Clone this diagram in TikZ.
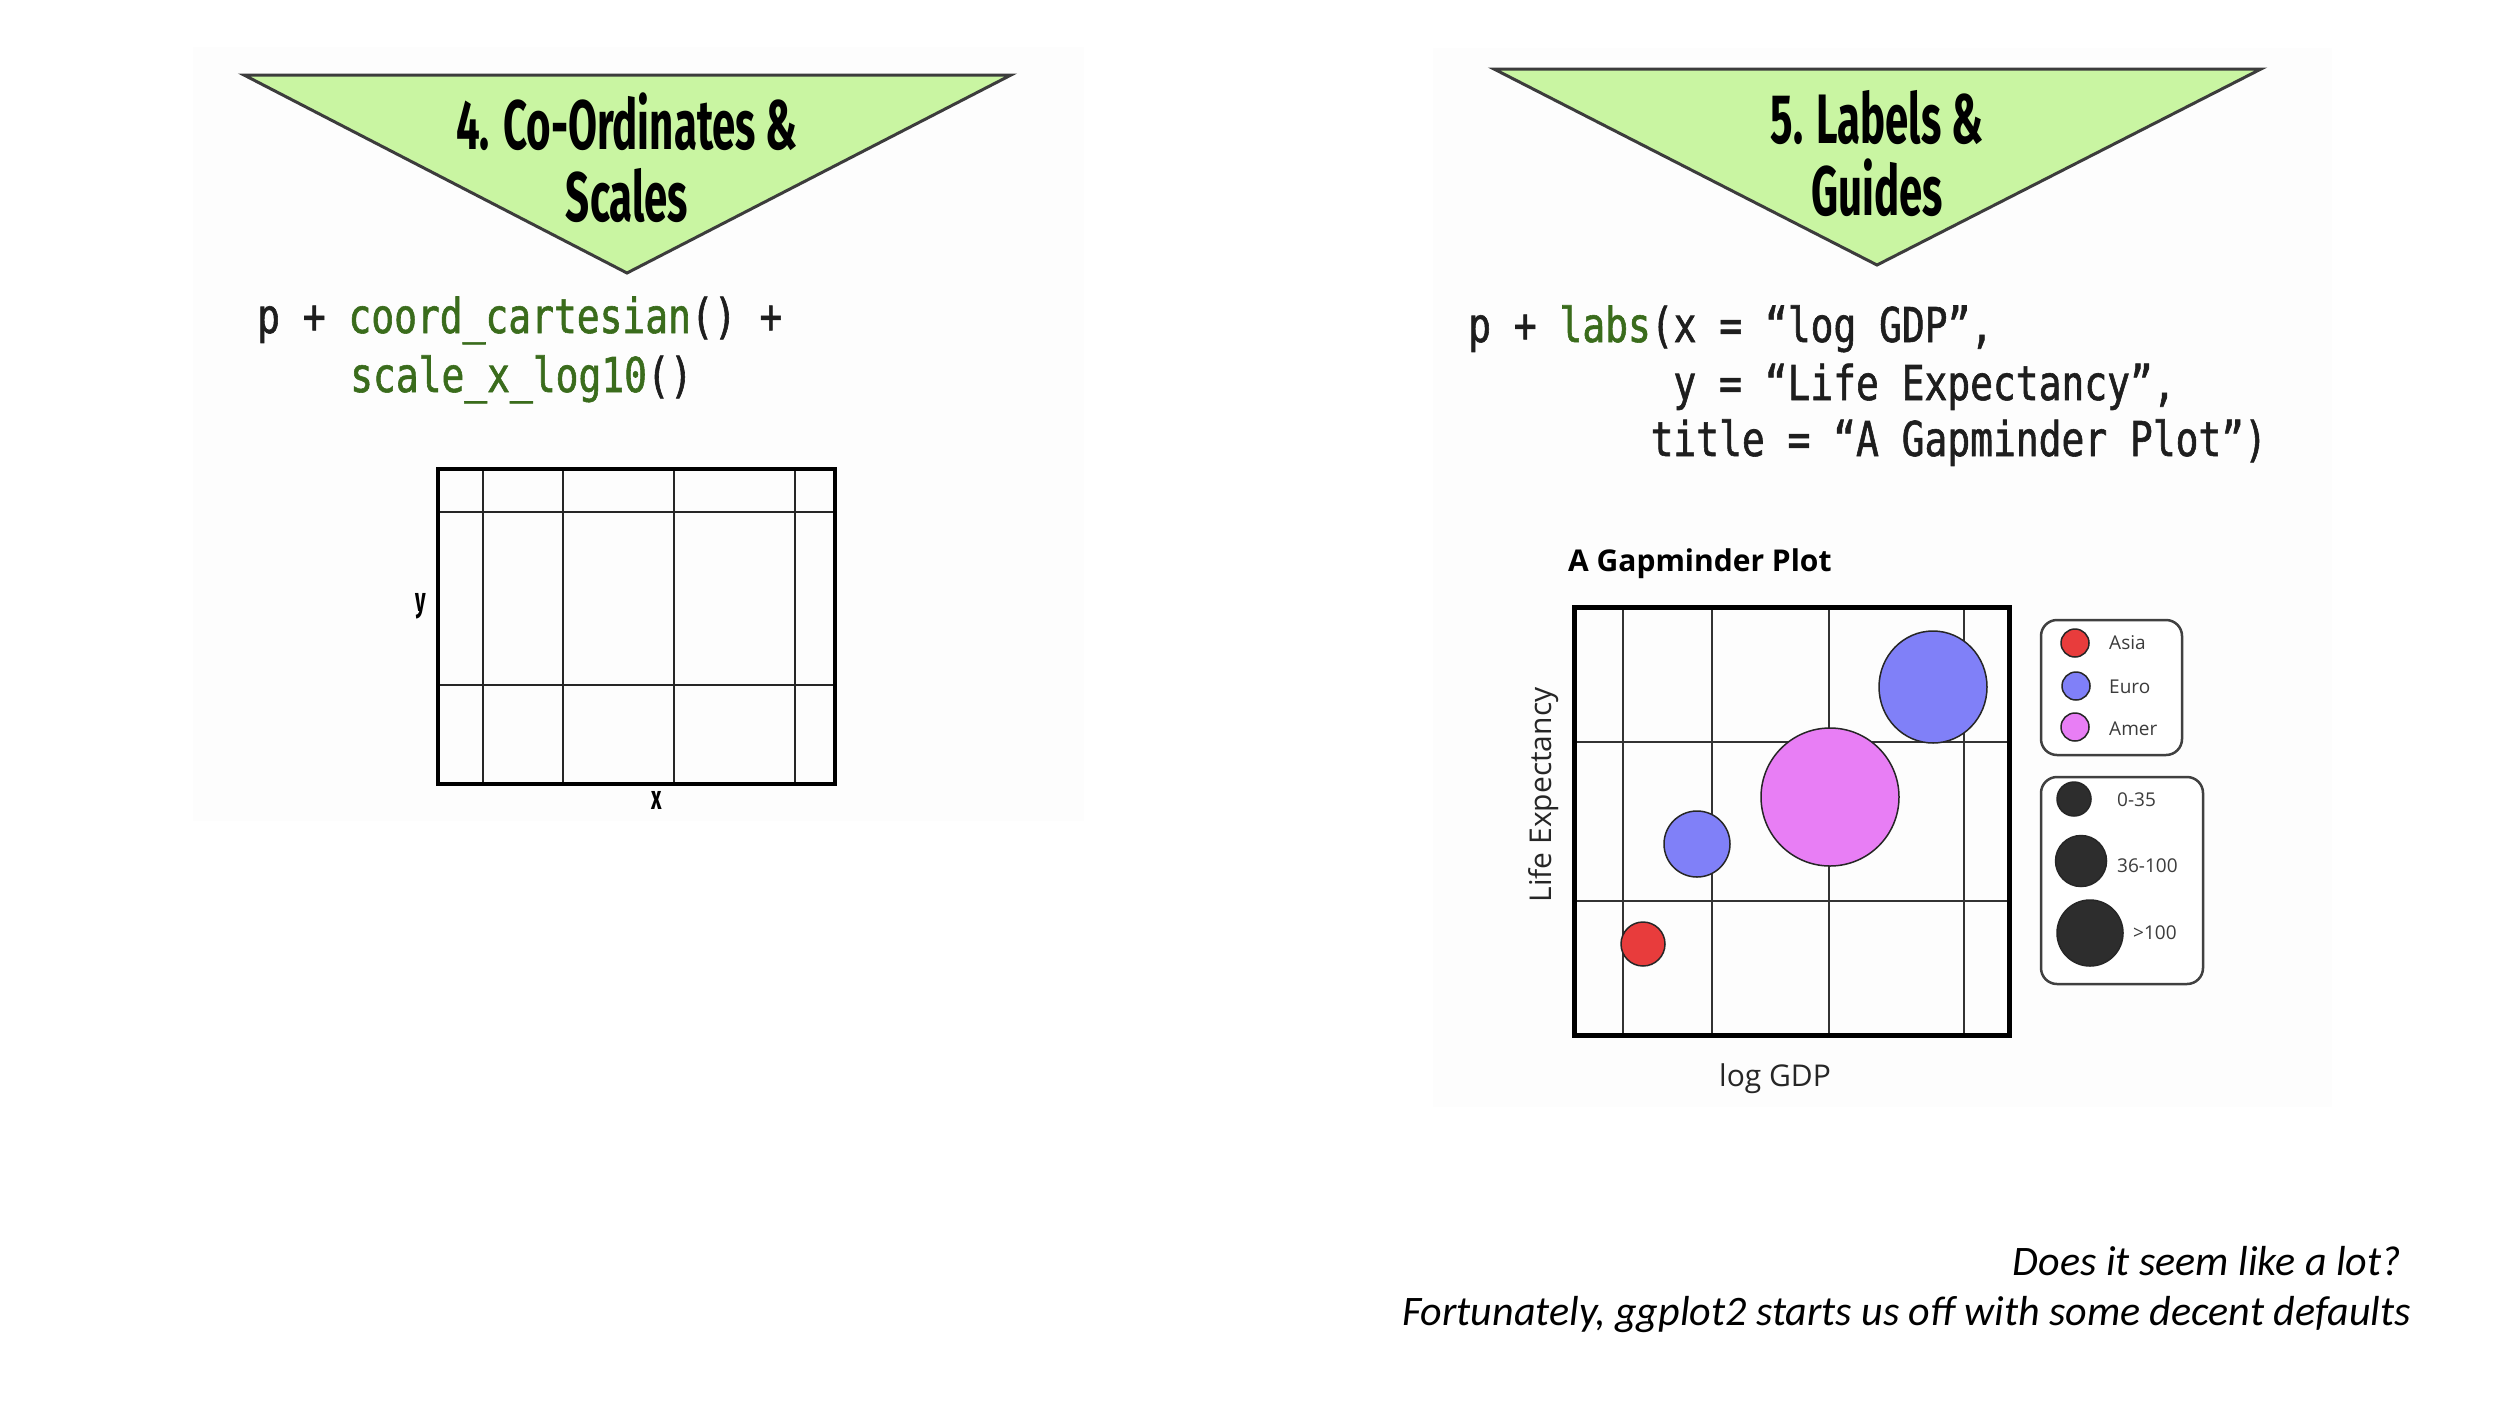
\documentclass[tikz,border=0pt]{standalone}
\usepackage{fontspec}
\setmainfont{Open Sans}
\newfontfamily\headfont{Fira Sans}[FakeStretch=0.6]
\newfontfamily\codefont{DejaVu Sans Mono}[FakeStretch=0.79,FakeBold=1.2]
\newfontfamily\notefont{Carlito}
\definecolor{trifill}{RGB}{201,245,162}
\definecolor{triline}{RGB}{60,60,60}
\definecolor{codegreen}{RGB}{58,108,28}
\definecolor{codeblack}{RGB}{30,30,30}
\definecolor{panelgray}{RGB}{253,253,253}
\definecolor{ptred}{RGB}{232,60,60}
\definecolor{ptblue}{RGB}{128,128,248}
\definecolor{ptmag}{RGB}{232,126,245}
\definecolor{ptblack}{RGB}{45,45,45}
\definecolor{legtext}{RGB}{60,60,60}
\begin{document}
\begin{tikzpicture}[x=1pt,y=-1pt,
  tri/.style={fill=trifill,draw=triline,line width=3pt,line join=miter},
  head/.style={font=\headfont\bfseries\fontsize{70}{72}\selectfont,inner sep=0pt,anchor=base,text=black},
  code/.style={font=\codefont\fontsize{48}{58}\selectfont,inner sep=0pt,anchor=base west,text=codeblack},
  gridout/.style={draw=black,line width=4pt},
  gridin/.style={draw=black!85,line width=2pt},
  plotout/.style={draw=black,line width=5pt},
  plotin/.style={draw=black!80,line width=2.2pt},
  pt/.style={draw=black!85,line width=1.5pt},
  legbox/.style={draw=black!75,line width=2.5pt,rounded corners=16pt,fill=white},
  legtxt/.style={font=\fontsize{19}{22}\selectfont,text=legtext,inner sep=0pt,anchor=west},
  axlab/.style={font=\fontsize{30}{34}\selectfont,text=black!85,inner sep=0pt},
  note/.style={font=\notefont\itshape\fontsize{42}{48}\selectfont,inner sep=0pt,anchor=base east}
]
\useasboundingbox (0,0) rectangle (2500,1406);
\fill[white] (0,0) rectangle (2500,1406);
% faint panels
\fill[panelgray] (193,47) rectangle (1084,821);
\fill[panelgray] (1433,48) rectangle (2332,1107);

% ---------- Left: coordinates & scales ----------
\draw[tri] (244,75) -- (1011,75) -- (627,273) -- cycle;
\node[head] (t4a) at (627,149) {4. Co-Ordinates \&};
\node[head] (t4b) at (627,221) {Scales};

\node[code] (c4a) at (257,333) {p + \textcolor{codegreen}{coord\_cartesian}() +};
\node[code] (c4b) at (350,392) {\textcolor{codegreen}{scale\_x\_log10}()};

\foreach \gx in {483,563,674,795} \draw[gridin] (\gx,469) -- (\gx,784);
\foreach \gy in {512,685} \draw[gridin] (438,\gy) -- (835,\gy);
\draw[gridout] (438,469) rectangle (835,784);
\node[font=\headfont\bfseries\fontsize{34}{36}\selectfont,inner sep=0pt] (ylab4) at (421,606) {y};
\node[font=\headfont\bfseries\fontsize{34}{36}\selectfont,inner sep=0pt] (xlab4) at (657,800) {x};

% ---------- Right: labels & guides ----------
\draw[tri] (1494,69) -- (2261,69) -- (1877,265) -- cycle;
\node[head] (t5a) at (1877,143) {5. Labels \&};
\node[head] (t5b) at (1877,215) {Guides};

\node[code] (c5a) at (1468,342) {p + \textcolor{codegreen}{labs}(x = “log GDP”,};
\node[code] (c5b) at (1673.2,400) {y = “Life Expectancy”,};
\node[code] (c5c) at (1650.4,456) {title = “A Gapminder Plot”)};

% plot
\node[font=\bfseries\fontsize{30}{36}\selectfont,inner sep=0pt,anchor=base west] (ptitle) at (1568,571) {A Gapminder Plot};
\foreach \gx in {1623,1712,1829,1964} \draw[plotin] (\gx,607) -- (\gx,1035);
\foreach \gy in {742,901} \draw[plotin] (1574,\gy) -- (2009,\gy);
\draw[plotout] (1574,607) rectangle (2009,1035);

\draw[pt,fill=ptred] (1643,944) circle[radius=22pt];
\draw[pt,fill=ptblue] (1697,844) circle[radius=33pt];
\draw[pt,fill=ptmag] (1830,797) circle[radius=69pt];
\draw[pt,fill=ptblue] (1933,687) ellipse[x radius=54pt,y radius=56pt];

\node[axlab,rotate=90] (ylab5) at (1544,795) {Life Expectancy};
\node[axlab,anchor=base] (xlab5) at (1775,1086) {log GDP};

% legends
\draw[legbox] (2041,620) rectangle (2182,755);
\draw[pt,fill=ptred] (2075,643) circle[radius=14pt];
\draw[pt,fill=ptblue] (2076,686) circle[radius=14pt];
\draw[pt,fill=ptmag] (2075,727) circle[radius=14pt];
\node[legtxt] (lasia) at (2109,643) {Asia};
\node[legtxt] (leuro) at (2109,687) {Euro};
\node[legtxt] (lamer) at (2109,729) {Amer};

\draw[legbox] (2041,777) rectangle (2203,984);
\draw[pt,fill=ptblack] (2074,799) circle[radius=17pt];
\draw[pt,fill=ptblack] (2081,861) circle[radius=25.5pt];
\draw[pt,fill=ptblack] (2090,933) circle[radius=33pt];
\node[legtxt] (ls1) at (2117,800) {0-35};
\node[legtxt] (ls2) at (2117,866) {36-100};
\node[legtxt] (ls3) at (2133,933) {>100};

% ---------- note ----------
\node[note] (n1) at (2401,1275) {Does it seem like a lot?};
\node[note] (n2) at (2411,1325) {Fortunately, ggplot2 starts us off with some decent defaults};
\end{tikzpicture}
\end{document}
